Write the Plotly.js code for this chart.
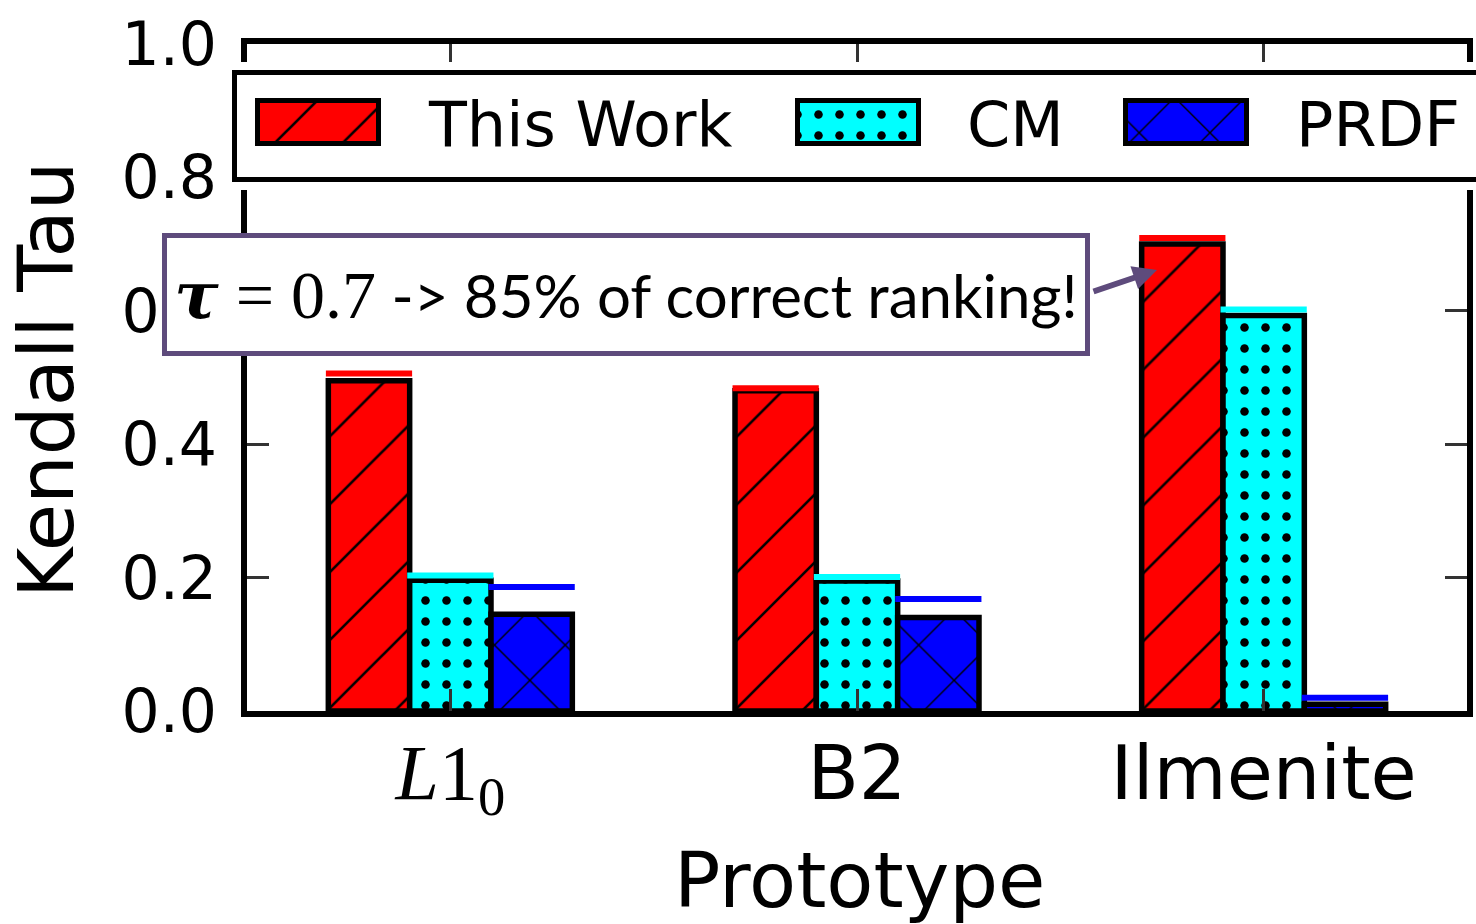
<!DOCTYPE html>
<html>
<head>
<meta charset="utf-8">
<script src="https://cdn.plot.ly/plotly-3.0.1.min.js"></script>
<style>
  html, body { margin: 0; padding: 0; background: #ffffff; }
  #chart { width: 1476px; height: 924px; }
</style>
</head>
<body>
<div id="chart"></div>
<script>
// Kendall tau per prototype structure, three ranking methods
const prototypes = ['L1_0', 'B2', 'Ilmenite'];
const prototypeLabels = [
  '<span style="font-family:\'Liberation Serif\';font-size:78px"><i>L</i>1<sub>0</sub></span>',
  'B2',
  'Ilmenite'
];
const seriesNames = ['This Work', 'CM', 'PRDF'];
const thisWork = [0.495, 0.480, 0.700];
const cm = [0.196, 0.195, 0.593];
const prdf = [0.145, 0.140, 0.010];
// upper marks drawn as a coloured bar-wide line above each bar
const thisWorkUpper = [0.506, 0.484, 0.709];
const cmUpper = [0.203, 0.201, 0.602];
const prdfUpper = [0.186, 0.168, 0.020];
const yTickVals = [0.0, 0.2, 0.4, 0.6, 0.8, 1.0];
const yTickText = ['0.0', '0.2', '0.4', '0.6', '0.8', '1.0'];

const W = 1476, H = 924;
const px = v => v / W;          // pixel -> paper x (margins are zero)
const py = v => 1 - v / H;      // pixel -> paper y

const colors = ['#ff0000', '#00ffff', '#0000ff'];
const patterns = [
  { shape: '/', fgcolor: '#000000', bgcolor: colors[0], size: 48, solidity: 0.055, fillmode: 'overlay', fgopacity: 1 },
  { shape: '.', fgcolor: '#000000', bgcolor: colors[1], size: 21, solidity: 0.13, fillmode: 'overlay', fgopacity: 1 },
  { shape: 'x', fgcolor: '#000000', bgcolor: colors[2], size: 50, solidity: 0.055, fillmode: 'overlay', fgopacity: 1 }
];
const values = [thisWork, cm, prdf];
const uppers = [thisWorkUpper, cmUpper, prdfUpper];
const barWidth = 0.2;
const offsets = [-barWidth, 0, barWidth];

const traces = [];
values.forEach((vals, s) => {
  traces.push({
    type: 'bar',
    name: seriesNames[s],
    x: prototypes.map((_, i) => i + offsets[s]),
    y: vals,
    width: barWidth,
    marker: { color: colors[s], pattern: patterns[s], line: { color: '#000000', width: 5.5 } },
    xaxis: 'x', yaxis: 'y',
    showlegend: false,
    hoverinfo: 'skip'
  });
});
uppers.forEach((vals, s) => {
  const xs = [], ys = [];
  vals.forEach((v, i) => {
    const c = i + offsets[s];
    xs.push(c - barWidth / 2 - 0.006, c + barWidth / 2 + 0.006, null);
    ys.push(v, v, null);
  });
  traces.push({
    type: 'scatter', mode: 'lines', x: xs, y: ys,
    line: { color: colors[s], width: 6 },
    xaxis: 'x', yaxis: 'y', showlegend: false, hoverinfo: 'skip'
  });
});

// legend panel: its own pixel-scaled axes so the swatches can carry the bar patterns
const legendBox = { x0: 234.5, x1: 1490, y0: 72.5, y1: 179.5 };
const swatchCenters = [318, 858, 1186];
const swatchTop = 100.5, swatchBottom = 143.5, swatchWidth = 121;
const labelLeft = [426, 965, 1294];
seriesNames.forEach((name, s) => {
  traces.push({
    type: 'bar',
    x: [swatchCenters[s]],
    y: [swatchBottom - swatchTop],
    base: [swatchTop],
    width: swatchWidth,
    marker: { color: colors[s], pattern: patterns[s], line: { color: '#000000', width: 5 } },
    xaxis: 'x2', yaxis: 'y2', showlegend: false, hoverinfo: 'skip'
  });
});

const annotations = [];
seriesNames.forEach((name, s) => {
  annotations.push({
    xref: 'paper', yref: 'paper', x: px(labelLeft[s]), y: py(124),
    xanchor: 'left', yanchor: 'middle', showarrow: false,
    text: name, font: { family: 'DejaVu Sans', size: 62, color: '#000000' }
  });
});
// axis titles
annotations.push({
  xref: 'paper', yref: 'paper', x: px(47), y: py(380), textangle: -90,
  xanchor: 'center', yanchor: 'middle', showarrow: false,
  text: 'Kendall Tau', font: { family: 'DejaVu Sans', size: 77, color: '#000000' }
});
annotations.push({
  xref: 'paper', yref: 'paper', x: px(860), y: py(880),
  xanchor: 'center', yanchor: 'middle', showarrow: false,
  text: 'Prototype', font: { family: 'DejaVu Sans', size: 77, color: '#000000' }
});
// callout
const calloutColor = '#5e4b7c';
annotations.push({
  xref: 'paper', yref: 'paper', x: px(626), y: py(294.5),
  xanchor: 'center', yanchor: 'middle', showarrow: false,
  width: 918, height: 113, align: 'center', valign: 'middle',
  bgcolor: '#ffffff', bordercolor: calloutColor, borderwidth: 5, borderpad: 0,
  text: '<span style="font-family:\'DejaVu Serif\';font-size:66px"><b><i>τ</i></b></span>' +
        '<span style="font-family:\'Liberation Serif\';font-size:68px"> = 0.7</span> -&gt; 85% of correct ranking!',
  font: { family: 'Lato', size: 60, color: '#000000' }
});
annotations.push({
  xref: 'paper', yref: 'paper', x: px(1157), y: py(270),
  ax: 1092 - 1157, ay: 292 - 270, axref: 'pixel', ayref: 'pixel',
  text: '', showarrow: true, arrowhead: 2, arrowsize: 0.8, arrowwidth: 6,
  arrowcolor: calloutColor, standoff: 0, startstandoff: 0
});

const axisCommon = {
  showgrid: false, zeroline: false, showline: true, linecolor: '#000000', linewidth: 6,
  ticks: 'inside', ticklen: 22, tickwidth: 3, tickcolor: '#333333', mirror: 'allticks',
  fixedrange: true
};

const layout = {
  width: W, height: H,
  margin: { l: 0, r: 0, t: 0, b: 0 },
  paper_bgcolor: '#ffffff', plot_bgcolor: '#ffffff',
  font: { family: 'DejaVu Sans', color: '#000000' },
  showlegend: false,
  barmode: 'overlay',
  xaxis: Object.assign({}, axisCommon, {
    domain: [px(247), px(1467)], range: [-0.5, 2.5],
    tickmode: 'array', tickvals: prototypes.map((_, i) => i), ticktext: prototypeLabels,
    tickfont: { family: 'DejaVu Sans', size: 75, color: '#000000' },
    ticklabelstandoff: -8, anchor: 'y'
  }),
  yaxis: Object.assign({}, axisCommon, {
    domain: [py(711), py(44)], range: [0, 1],
    tickmode: 'array', tickvals: yTickVals, ticktext: yTickText,
    tickfont: { family: 'DejaVu Sans', size: 60, color: '#000000' },
    ticklabelstandoff: 12, anchor: 'x'
  }),
  xaxis2: { domain: [px(220), 1], range: [220, W], visible: false, fixedrange: true, anchor: 'y2' },
  yaxis2: { domain: [py(190), py(62)], range: [190, 62], visible: false, fixedrange: true, anchor: 'x2' },
  shapes: [{
    type: 'rect', xref: 'x2', yref: 'y2', layer: 'below',
    x0: legendBox.x0, x1: legendBox.x1, y0: legendBox.y0, y1: legendBox.y1,
    fillcolor: '#ffffff', line: { color: '#000000', width: 5 }
  }],
  annotations: annotations
};

Plotly.newPlot('chart', traces, layout, { staticPlot: true, displayModeBar: false });
</script>
</body>
</html>
